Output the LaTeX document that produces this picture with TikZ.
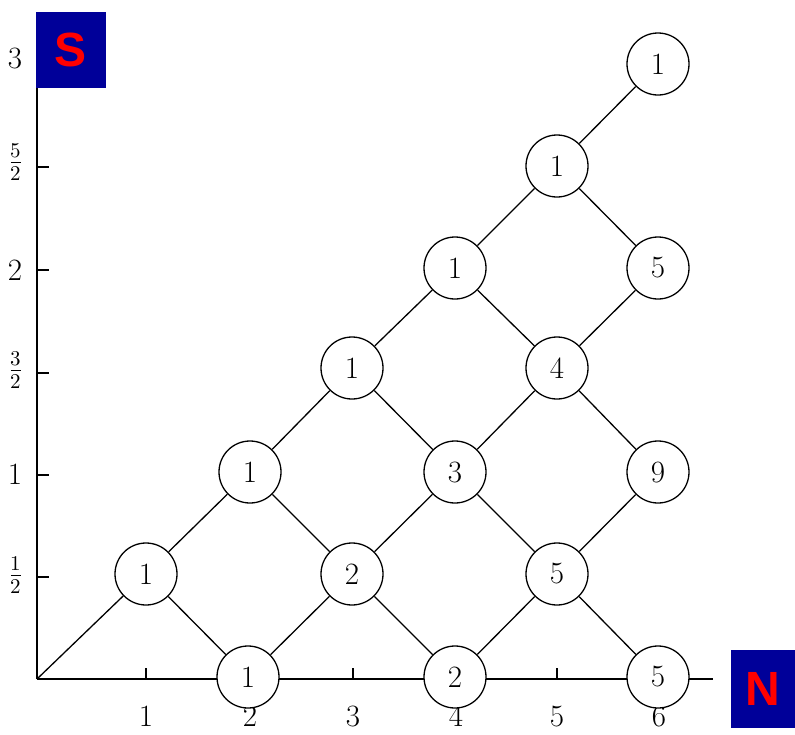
\documentclass[tikz,border=0pt]{standalone}
\usepackage{unicode-math}
\setmathfont{Latin Modern Math}
\newfontfamily\boxfont{Liberation Sans}
\begin{document}
\begin{tikzpicture}[x=1pt,y=-1pt,line width=1.3pt,
  st/.style={circle,draw,fill=white,minimum size=62pt,inner sep=0pt,font=\fontsize{31}{34}\selectfont},
  lab/.style={font=\fontsize{31}{34}\selectfont,inner sep=0pt},
  flab/.style={font=\fontsize{30}{34}\selectfont,inner sep=0pt},
  corner/.style={fill={rgb,255:red,0;green,0;blue,153},text=red,font=\boxfont\bfseries\fontsize{48}{50}\selectfont,inner sep=0pt}]
\useasboundingbox (0,0) rectangle (795,734);
\coordinate (O) at (37,679);
\coordinate (ytop) at (37,40);
\coordinate (xend) at (713,679);
% axes
\draw (O) -- (ytop);
\draw (O) -- (xend);
% y ticks
\foreach \yy in {167,270,373,475,577} \draw (37,\yy) -- (49,\yy);
% x ticks
\foreach \xx in {146,353,557} \draw (\xx,679) -- (\xx,668);
% x labels
\foreach \xx/\t in {146/1,250/2,353/3,456/4,557/5,659/6} \node[lab,anchor=base] at (\xx,726) {\t};
% y labels
\node[lab] at (15,58) {3};
\node[flab] at (16,162) {$\frac{5}{2}$};
\node[lab] at (15,270) {2};
\node[flab] at (16,370) {$\frac{3}{2}$};
\node[lab] at (15,474) {1};
\node[flab] at (16,575) {$\frac{1}{2}$};
% nodes
\node[st] (a1) at (146,574) {1};
\node[st] (b0) at (248,677) {1};
\node[st] (b2) at (250,472) {1};
\node[st] (c1) at (352,574) {2};
\node[st] (c3) at (352,368) {1};
\node[st] (d0) at (455,677) {2};
\node[st] (d2) at (455,472) {3};
\node[st] (d4) at (455,268) {1};
\node[st] (e1) at (557,574) {5};
\node[st] (e3) at (557,368) {4};
\node[st] (e5) at (557,166) {1};
\node[st] (f0) at (658,677) {5};
\node[st] (f2) at (658,472) {9};
\node[st] (f4) at (658,268) {5};
\node[st] (f6) at (658,64) {1};
% edges
\draw (O) -- (a1);
\draw (a1) -- (b2); \draw (a1) -- (b0);
\draw (b0) -- (c1); \draw (b2) -- (c1); \draw (b2) -- (c3);
\draw (c1) -- (d0); \draw (c1) -- (d2); \draw (c3) -- (d2); \draw (c3) -- (d4);
\draw (d0) -- (e1); \draw (d2) -- (e1); \draw (d2) -- (e3); \draw (d4) -- (e3); \draw (d4) -- (e5);
\draw (e1) -- (f0); \draw (e1) -- (f2); \draw (e3) -- (f2); \draw (e3) -- (f4); \draw (e5) -- (f4); \draw (e5) -- (f6);
% corner boxes
\node[corner,minimum width=70pt,minimum height=76pt] (S) at (71,50) {S};
\node[corner,minimum width=64pt,minimum height=78pt] (N) at (763,689) {N};
\end{tikzpicture}
\end{document}
